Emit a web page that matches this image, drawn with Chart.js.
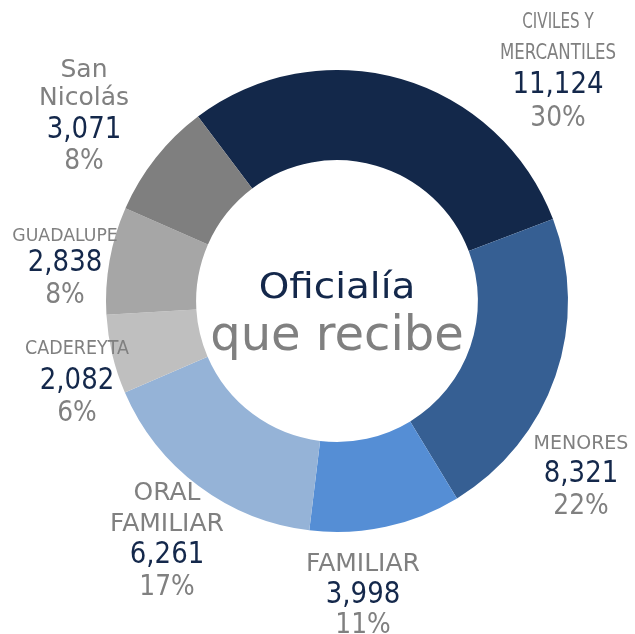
<!DOCTYPE html>
<html>
<head>
<meta charset="utf-8">
<script src="https://cdn.jsdelivr.net/npm/chart.js@4/dist/chart.umd.min.js"></script>
<style>
  html, body { margin: 0; padding: 0; background: #ffffff; }
  #wrap { width: 635px; height: 634px; }
</style>
</head>
<body>
<div id="wrap"><canvas id="c" width="635" height="634"></canvas></div>
<script>
// ---- data ----
const categories = ["CIVILES Y MERCANTILES", "MENORES", "FAMILIAR", "ORAL FAMILIAR", "CADEREYTA", "GUADALUPE", "San Nicolás"];
const nameLines = [["CIVILES Y", "MERCANTILES"], ["MENORES"], ["FAMILIAR"], ["ORAL", "FAMILIAR"], ["CADEREYTA"], ["GUADALUPE"], ["San", "Nicolás"]];
const values = [11124, 8321, 3998, 6261, 2082, 2838, 3071];
const centerTitle = ["Oficialía", "que recibe"];

// ---- styles ----
const sliceColors = ["#13284A", "#365F93", "#558ED5", "#95B3D7", "#BFBFBF", "#A6A6A6", "#7F7F7F"];
const navy = "#14284B";
const gray = "#808080";
const FONT = "'DejaVu Sans', sans-serif";

// label layout: block x centre, baselines for each line, name size, name horizontal scale
const labelLayout = [
  { x: 558, base: [28, 59, 93, 126], nameSize: 21, nameScale: [0.72, 0.79] },
  { x: 581, base: [449, 482, 514], nameSize: 20, nameScale: [0.95] },
  { x: 363, base: [571, 603, 633], nameSize: 25, nameScale: [1] },
  { x: 167, base: [500, 531, 563, 595], nameSize: 25, nameScale: [1, 1] },
  { x: 77, base: [354, 389, 421], nameSize: 19, nameScale: [0.92] },
  { x: 65, base: [241, 271, 303], nameSize: 18, nameScale: [0.96] },
  { x: 84, base: [77, 105, 138, 169], nameSize: 25, nameScale: [1, 1] }
];

function drawText(ctx, text, x, y, size, color, sx, weight) {
  ctx.save();
  ctx.font = (weight || "normal") + " " + size + "px " + FONT;
  ctx.fillStyle = color;
  ctx.textAlign = "center";
  ctx.textBaseline = "alphabetic";
  ctx.translate(x, y);
  ctx.scale(sx, 1);
  ctx.fillText(text, 0, 0);
  ctx.restore();
}

const labelPlugin = {
  id: "labelPlugin",
  afterDraw(chart) {
    const ctx = chart.ctx;
    const ds = chart.data.datasets[0].data;
    const total = ds.reduce((a, b) => a + b, 0);
    ds.forEach((v, i) => {
      const L = labelLayout[i];
      const names = nameLines[i];
      let k = 0;
      names.forEach((n, j) => {
        drawText(ctx, n, L.x, L.base[k++], L.nameSize, gray, L.nameScale[j]);
      });
      drawText(ctx, v.toLocaleString("en-US"), L.x, L.base[k++], 31, navy, 0.84);
      drawText(ctx, Math.round(v / total * 100) + "%", L.x, L.base[k++], 29, gray, 0.86);
    });
    // centre text
    const a = chart.chartArea;
    const cx = (a.left + a.right) / 2;
    const cy = (a.top + a.bottom) / 2;
    drawText(ctx, centerTitle[0], cx, cy - 3, 36, navy, 1.08);
    drawText(ctx, centerTitle[1], cx, cy + 49, 48, gray, 1.0);
  }
};

new Chart(document.getElementById("c"), {
  type: "doughnut",
  data: {
    labels: categories,
    datasets: [{
      data: values,
      backgroundColor: sliceColors,
      borderWidth: 0,
      hoverOffset: 0,
      offset: 0
    }]
  },
  options: {
    responsive: false,
    animation: false,
    rotation: -37,
    cutout: "61%",
    layout: { padding: { left: 106, right: 67, top: 70, bottom: 102 } },
    plugins: { legend: { display: false }, tooltip: { enabled: false } }
  },
  plugins: [labelPlugin]
});
</script>
</body>
</html>
